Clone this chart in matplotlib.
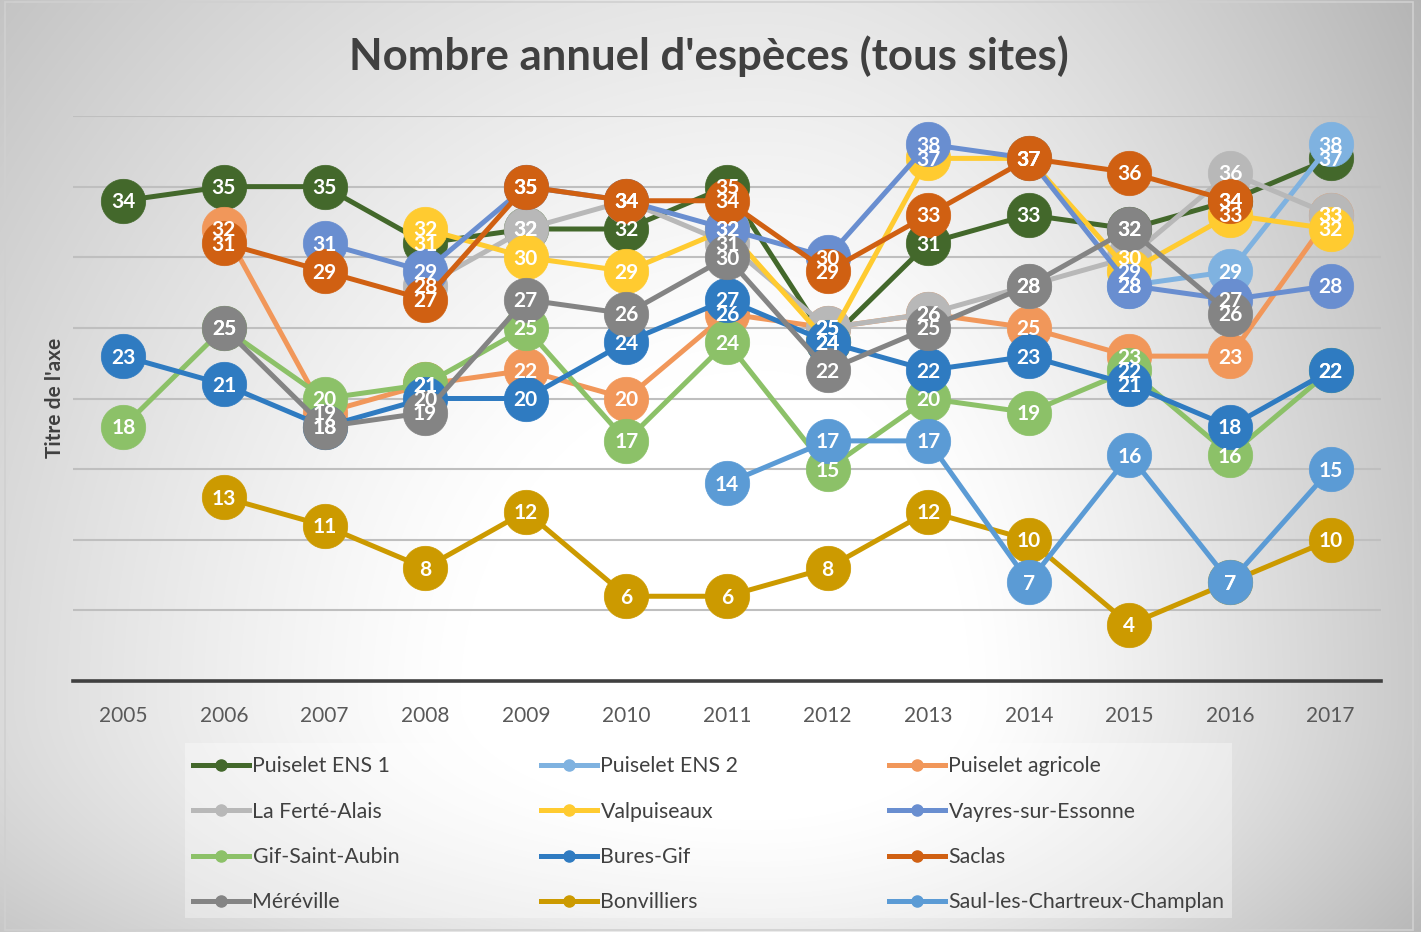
import numpy as np
import matplotlib
matplotlib.use("Agg")
import matplotlib.pyplot as plt
from matplotlib.lines import Line2D
from matplotlib.patches import Rectangle
import matplotlib.transforms as mtransforms

nan = np.nan
years = [2005, 2006, 2007, 2008, 2009, 2010, 2011, 2012, 2013, 2014, 2015, 2016, 2017]

series_names = ["Puiselet ENS 1", "Puiselet ENS 2", "Puiselet agricole",
                "La Ferté-Alais", "Valpuiseaux", "Vayres-sur-Essonne",
                "Gif-Saint-Aubin", "Bures-Gif", "Saclas",
                "Méréville", "Bonvilliers", "Saul-les-Chartreux-Champlan"]

puiselet_ens1 = [34, 35, 35, 31, 32, 32, 35, 24, 31, 33, 32, 34, 37]
puiselet_ens2 = [nan, nan, nan, nan, nan, nan, nan, nan, nan, nan, 28, 29, 38]
puiselet_agricole = [nan, 32, 19, 21, 22, 20, 26, 25, 26, 25, 23, 23, 33]
la_ferte_alais = [nan, nan, nan, 28, 32, 34, 31, 25, 26, 28, 30, 36, 33]
valpuiseaux = [nan, nan, nan, 32, 30, 29, 32, 24, 37, 37, 29, 33, 32]
vayres = [nan, nan, 31, 29, 35, 34, 32, 30, 38, 37, 28, 27, 28]
gif = [18, 25, 20, 21, 25, 17, 24, 15, 20, 19, 22, 16, 22]
bures = [23, 21, 18, 20, 20, 24, 27, 24, 22, 23, 21, 18, 22]
saclas = [nan, 31, 29, 27, 35, 34, 34, 29, 33, 37, 36, 34, nan]
mereville = [nan, 25, 18, 19, 27, 26, 30, 22, 25, 28, 32, 26, nan]
bonvilliers = [nan, 13, 11, 8, 12, 6, 6, 8, 12, 10, 4, 7, 10]
saul = [nan, nan, nan, nan, nan, nan, 14, 17, 17, 7, 16, 7, 15]

series_values = [puiselet_ens1, puiselet_ens2, puiselet_agricole, la_ferte_alais,
                 valpuiseaux, vayres, gif, bures, saclas, mereville, bonvilliers, saul]

colors = ["#43682B", "#7FB2E0", "#F1975A", "#B8B8B8", "#FFCB30", "#698ED0",
          "#8CC168", "#2F7BC1", "#D06012", "#848484", "#CC9A00", "#5B9BD5"]

W, H = 1421, 932
DPI = 100
plt.rcParams['font.family'] = ['Lato', 'DejaVu Sans']

fig = plt.figure(figsize=(W / DPI, H / DPI), dpi=DPI)

# ---- background gradient ----
bg = fig.add_axes([0, 0, 1, 1], zorder=-10)
xx, yy = np.meshgrid(np.arange(W), np.arange(H))
cx, cy = 760, 700
wx = np.where(xx < cx, 1000.0, 700.0)
wy = np.where(yy < cy, 1100.0, 400.0)
d = np.sqrt(((xx - cx) / wx) ** 2 + ((yy - cy) / wy) ** 2)
t = np.clip((d - 0.3) / 0.7, 0, 1.3) ** 1.2
v = np.clip(255 - 60 * t, 0, 255) / 255.0
img = np.dstack([v, v, v])
bg.imshow(img, extent=[0, W, H, 0], aspect='auto', interpolation='bilinear')
bg.set_xlim(0, W)
bg.set_ylim(H, 0)
bg.axis('off')

# outer border
fig.patches.append(Rectangle((5 / W, 2 / H), (1413 - 5) / W, (930 - 2) / H,
                             transform=fig.transFigure, fill=False,
                             edgecolor="#D0D0D0", linewidth=1.2, zorder=-5))

# ---- main axes ----
left, right, top, bottom = 73, 1381, 116, 681
ax = fig.add_axes([left / W, 1 - bottom / H, (right - left) / W, (bottom - top) / H])
ax.set_facecolor('none')
ax.set_xlim(years[0] - 0.5, years[-1] + 0.5)
ax.set_ylim(0, 40)
ax.set_yticks(np.arange(5, 41, 5))
ax.yaxis.grid(True, color="#BFBFBF", linewidth=1.5)
ax.set_axisbelow(True)
ax.tick_params(axis='y', left=False, labelleft=False)
ax.set_xticks(years)
ax.set_xticklabels([str(y) for y in years])
ax.tick_params(axis='x', length=0, pad=18, labelsize=15, labelcolor="#595959")
for s in ['left', 'right', 'top']:
    ax.spines[s].set_visible(False)
ax.spines['bottom'].set_color("#404040")
ax.spines['bottom'].set_linewidth(2.6)
ax.spines['bottom'].set_zorder(1)

lab_tr = mtransforms.offset_copy(ax.transData, fig=fig, x=0, y=-5.4, units='points')
for i, (name, vals, col) in enumerate(zip(series_names, series_values, colors)):
    ax.plot(years, vals, color=col, linewidth=3.6, marker='o', markersize=32,
            markerfacecolor=col, markeredgecolor=col, markeredgewidth=0.5,
            solid_capstyle='round', zorder=2 + i * 0.1, label=name)
for i, (vals, col) in enumerate(zip(series_values, colors)):
    for x, val in zip(years, vals):
        if not np.isnan(val):
            ax.text(x, val, f"{int(val)}", transform=lab_tr, ha='center', va='baseline',
                    color='white', fontsize=15, fontweight='bold', zorder=10 + i * 0.1)

# ---- titles ----
fig.text(709 / W, 1 - 70 / H, "Nombre annuel d'espèces (tous sites)", ha='center',
         va='baseline', fontsize=31.5, fontweight='bold', color="#404040")
fig.text(55 / W, 1 - 398 / H, "Titre de l'axe", rotation=90, ha='center', va='center',
         fontsize=15, fontweight='bold', color="#404040")

# ---- legend ----
fig.patches.append(Rectangle((185 / W, 1 - 918 / H), (1232 - 185) / W, (918 - 743) / H,
                             transform=fig.transFigure, facecolor='white', alpha=0.35,
                             edgecolor='none', zorder=-4))
col_x = [193, 541, 889]
for c in range(3):
    idx = [c, c + 3, c + 6, c + 9]
    handles = [Line2D([0], [0], color=colors[k], linewidth=3.6, marker='o', markersize=8,
                      markerfacecolor=colors[k], markeredgecolor=colors[k])
               for k in idx]
    labels = [series_names[k] for k in idx]
    fig.legend(handles, labels, loc='upper left',
               bbox_to_anchor=(col_x[c] / W, 1 - 756 / H),
               bbox_transform=fig.transFigure, frameon=False,
               borderaxespad=0, borderpad=0, handlelength=2.65,
               handletextpad=0.15, labelspacing=1.2, fontsize=15.3,
               labelcolor="#404040")

fig.savefig("out.png", dpi=DPI)
